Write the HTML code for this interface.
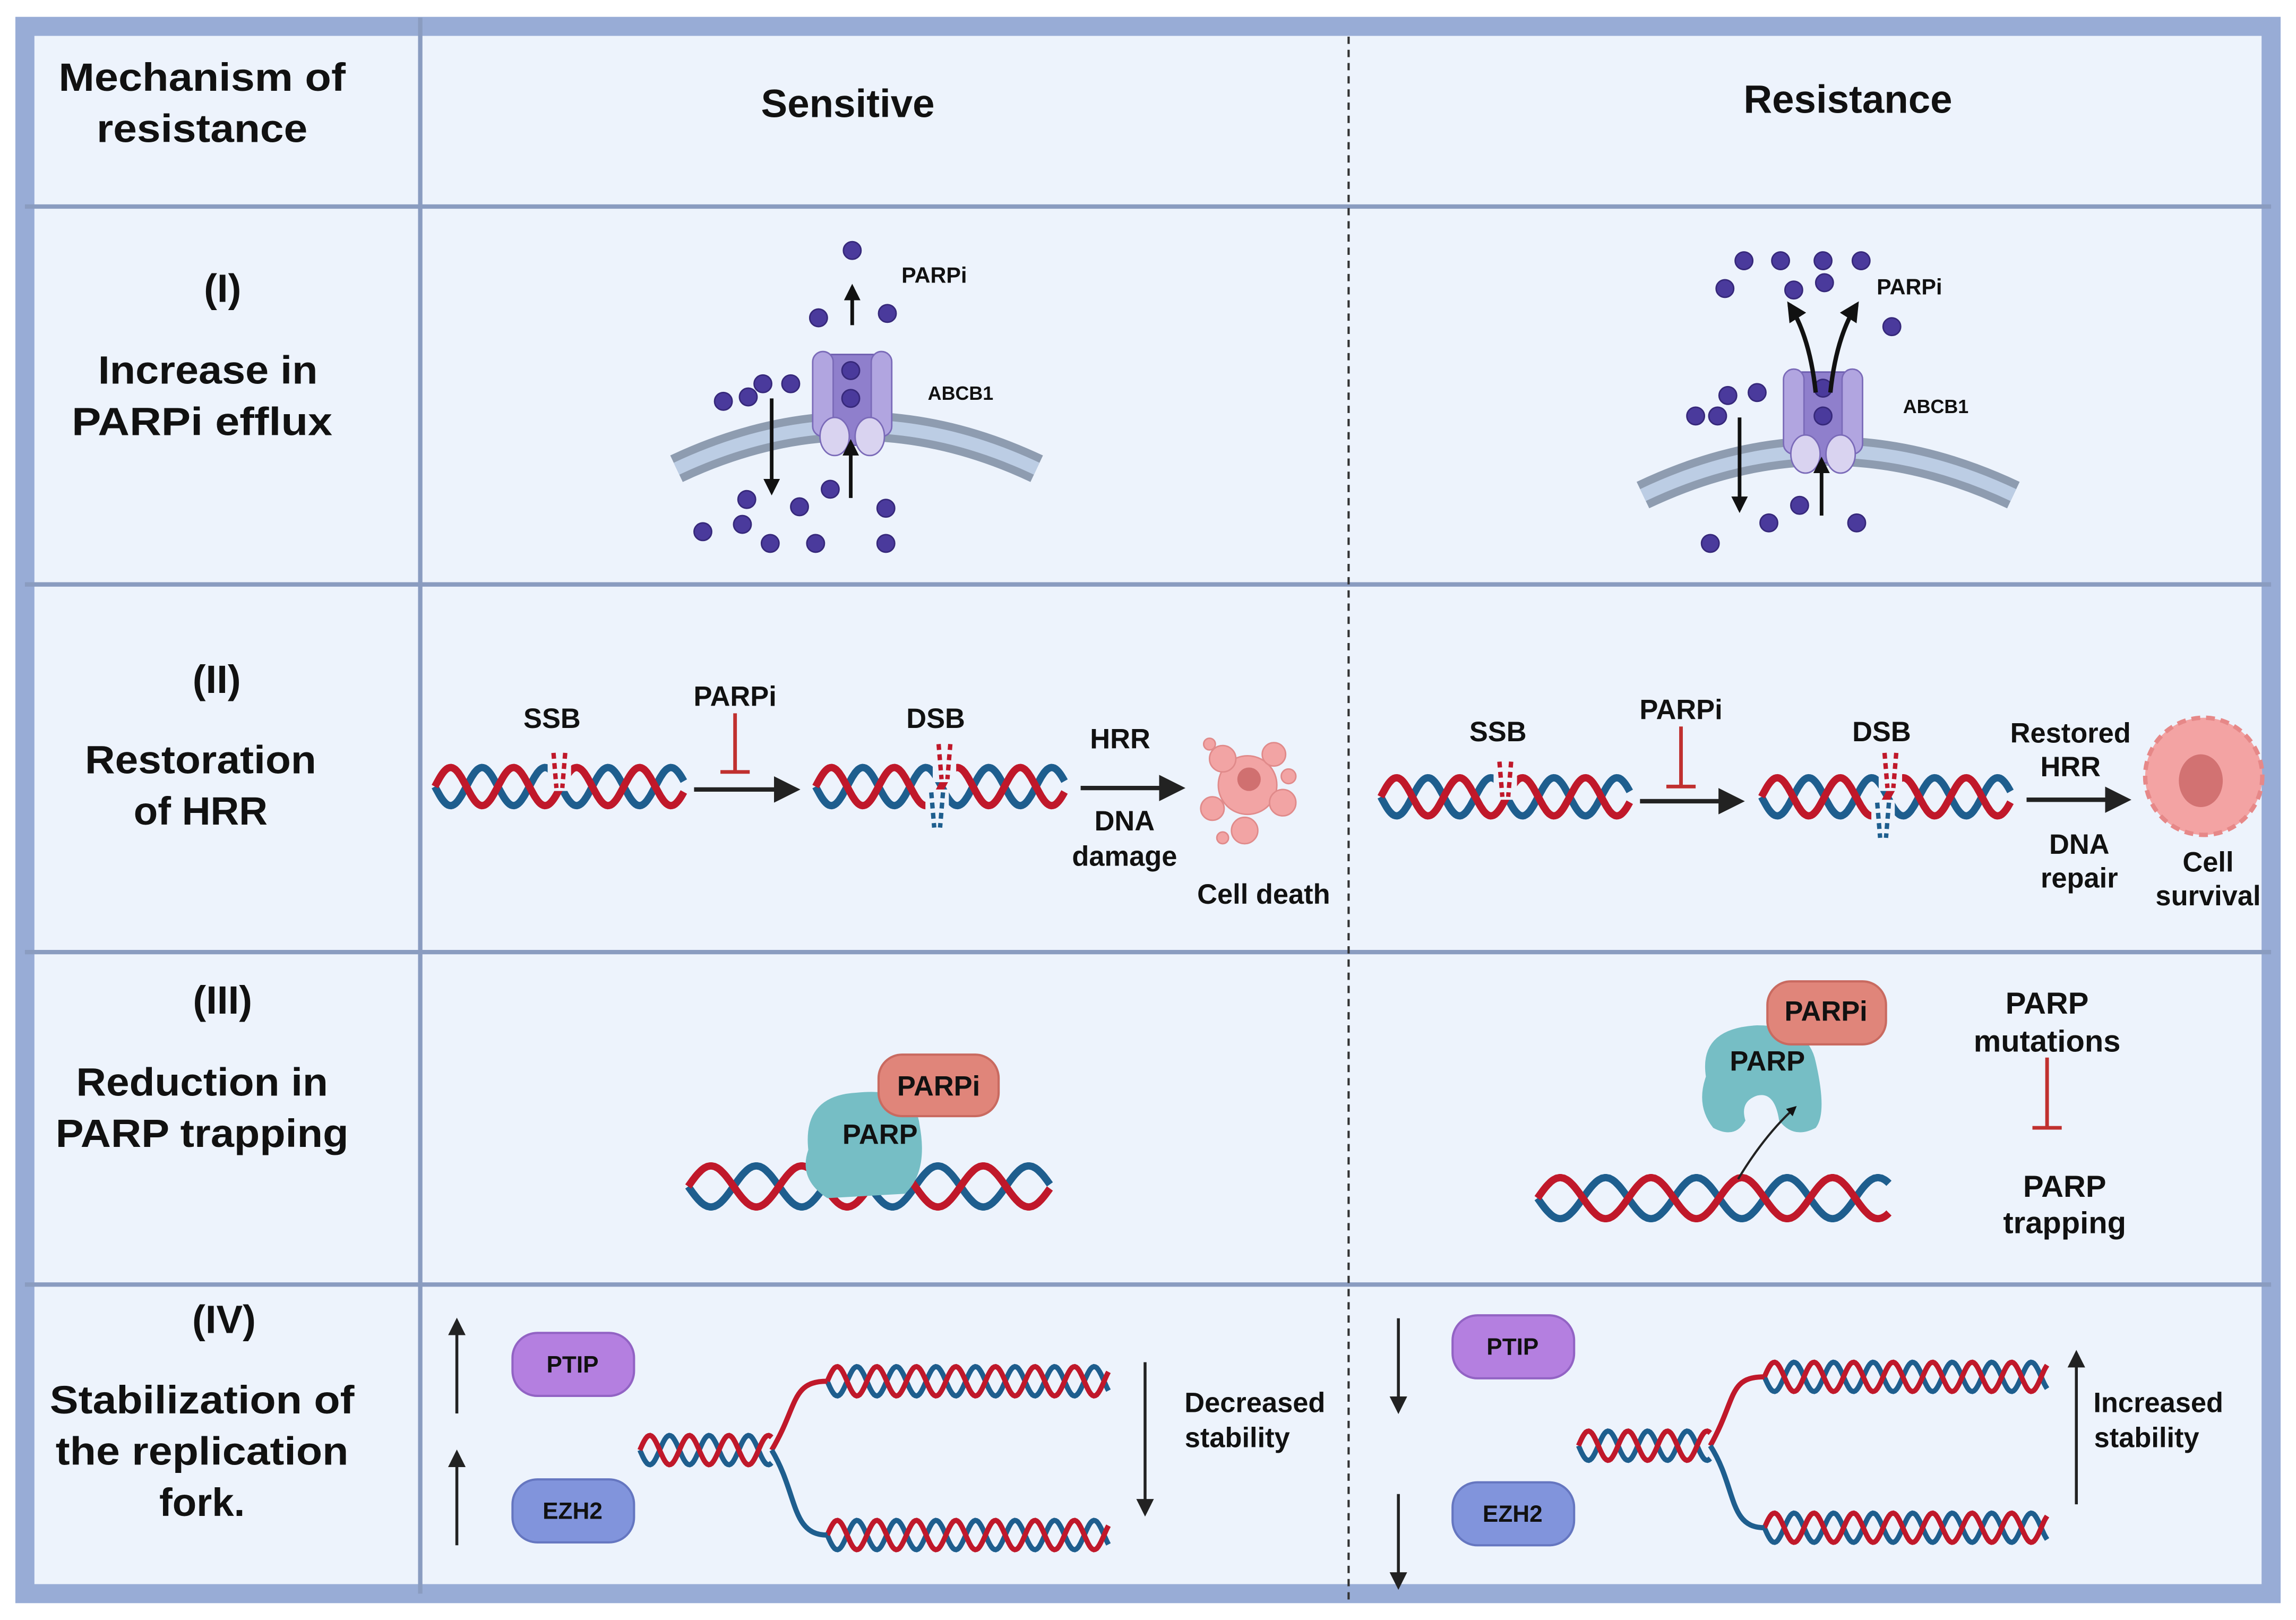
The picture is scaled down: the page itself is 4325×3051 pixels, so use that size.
<!DOCTYPE html>
<html><head><meta charset="utf-8"><style>
html,body{margin:0;padding:0;background:#fff;}
svg{display:block;}
text{font-family:"Liberation Sans",sans-serif;font-weight:bold;fill:#111;text-anchor:middle;}
</style></head><body>
<svg id="s" xmlns="http://www.w3.org/2000/svg" width="4325" height="3051" viewBox="0 0 1568 1106" preserveAspectRatio="none">
<defs>
<marker id="ah" viewBox="0 0 10 10" refX="8" refY="5" markerWidth="4.5" markerHeight="4.5" orient="auto"><path d="M0,0 L10,5 L0,10 z" fill="#111"/></marker>
<marker id="ahs" viewBox="0 0 10 10" refX="8" refY="5" markerWidth="6" markerHeight="6" orient="auto"><path d="M0,0 L10,5 L0,10 z" fill="#222"/></marker>
</defs>
<rect x="0" y="0" width="1568" height="1106" fill="#fff"/>
<rect x="17" y="18" width="1534" height="1070" fill="#edf3fc" stroke="#98acd6" stroke-width="13"/>
<g stroke="#8a9cc0" stroke-width="3">
<line x1="287" y1="12" x2="287" y2="1088"/>
<line x1="17" y1="141" x2="1551" y2="141"/>
<line x1="17" y1="399" x2="1551" y2="399"/>
<line x1="17" y1="650" x2="1551" y2="650"/>
<line x1="17" y1="877" x2="1551" y2="877"/>
</g>
<line x1="921" y1="25" x2="921" y2="1094" stroke="#333" stroke-width="1.5" stroke-dasharray="5,4"/>

<g font-size="27">
<text x="138" y="62" textLength="196" lengthAdjust="spacingAndGlyphs">Mechanism of</text><text x="138" y="97" textLength="144" lengthAdjust="spacingAndGlyphs">resistance</text>
<text x="579" y="80">Sensitive</text><text x="1262" y="77">Resistance</text>
<text x="152" y="206">(I)</text><text x="142" y="262" textLength="150" lengthAdjust="spacingAndGlyphs">Increase in</text><text x="138" y="297" textLength="178" lengthAdjust="spacingAndGlyphs">PARPi  efflux</text>
<text x="148" y="473">(II)</text><text x="137" y="528" textLength="158" lengthAdjust="spacingAndGlyphs">Restoration</text><text x="137" y="563">of HRR</text>
<text x="152" y="692">(III)</text><text x="138" y="748" textLength="172" lengthAdjust="spacingAndGlyphs">Reduction in</text><text x="138" y="783" textLength="200" lengthAdjust="spacingAndGlyphs">PARP trapping</text>
<text x="153" y="910">(IV)</text><text x="138" y="965" textLength="208" lengthAdjust="spacingAndGlyphs">Stabilization of</text><text x="138" y="1000" textLength="200" lengthAdjust="spacingAndGlyphs">the replication</text><text x="138" y="1035">fork.</text>
</g>

<path d="M462,320 Q585,262 708,320" fill="none" stroke="#8e9cb0" stroke-width="20"/>
<path d="M462,320 Q585,262 708,320" fill="none" stroke="#bccde4" stroke-width="9"/>
<path d="M1122,338 Q1248,278 1375,338" fill="none" stroke="#8e9cb0" stroke-width="20"/>
<path d="M1122,338 Q1248,278 1375,338" fill="none" stroke="#bccde4" stroke-width="9"/>
<g transform="translate(582,0)">
<rect x="-20" y="242" width="40" height="62" fill="#8f7fcc" stroke="#6c5cae" stroke-width="1"/>
<rect x="-27" y="240" width="14" height="58" rx="7" fill="#b1a5e0" stroke="#7a6ab8"/>
<rect x="13" y="240" width="14" height="58" rx="7" fill="#b1a5e0" stroke="#7a6ab8"/>
<ellipse cx="-12" cy="298" rx="10" ry="13" fill="#d9d3f0" stroke="#7a6ab8"/>
<ellipse cx="12" cy="298" rx="10" ry="13" fill="#d9d3f0" stroke="#7a6ab8"/>
</g>
<g transform="translate(1245,12)">
<rect x="-20" y="242" width="40" height="62" fill="#8f7fcc" stroke="#6c5cae" stroke-width="1"/>
<rect x="-27" y="240" width="14" height="58" rx="7" fill="#b1a5e0" stroke="#7a6ab8"/>
<rect x="13" y="240" width="14" height="58" rx="7" fill="#b1a5e0" stroke="#7a6ab8"/>
<ellipse cx="-12" cy="298" rx="10" ry="13" fill="#d9d3f0" stroke="#7a6ab8"/>
<ellipse cx="12" cy="298" rx="10" ry="13" fill="#d9d3f0" stroke="#7a6ab8"/>
</g>
<g id="dots"></g>
<g stroke="#111" stroke-width="2.5" fill="none">
<line x1="582" y1="222" x2="582" y2="196" marker-end="url(#ah)"/>
<line x1="527" y1="272" x2="527" y2="336" marker-end="url(#ah)"/>
<line x1="581" y1="340" x2="581" y2="302" marker-end="url(#ah)"/>
<line x1="1188" y1="285" x2="1188" y2="348" marker-end="url(#ah)"/>
<line x1="1244" y1="352" x2="1244" y2="314" marker-end="url(#ah)"/>
<path d="M1240,268 Q1236,230 1222,208" marker-end="url(#ah)" stroke-width="3"/>
<path d="M1250,268 Q1254,230 1268,208" marker-end="url(#ah)" stroke-width="3"/>
</g>
<g font-size="15"><text x="638" y="193">PARPi</text><text x="1304" y="201">PARPi</text></g>
<g font-size="13"><text x="656" y="273">ABCB1</text><text x="1322" y="282">ABCB1</text></g>

<g id="hel"></g>

<g stroke="#222" stroke-width="3" fill="none">
<line x1="474" y1="539" x2="543" y2="539" marker-end="url(#ahs)"/>
<line x1="738" y1="538" x2="806" y2="538" marker-end="url(#ahs)"/>
<line x1="1120" y1="547" x2="1188" y2="547" marker-end="url(#ahs)"/>
<line x1="1384" y1="546" x2="1452" y2="546" marker-end="url(#ahs)"/>
</g>
<g stroke="#c0302f" stroke-width="2.5">
<line x1="502" y1="487" x2="502" y2="527"/><line x1="492" y1="527" x2="512" y2="527"/>
<line x1="1148" y1="496" x2="1148" y2="537"/><line x1="1138" y1="537" x2="1158" y2="537"/>
<line x1="1398" y1="722" x2="1398" y2="770"/><line x1="1388" y1="770" x2="1408" y2="770"/>
</g>
<g font-size="19">
<text x="377" y="497">SSB</text><text x="502" y="482">PARPi</text><text x="639" y="497">DSB</text>
<text x="765" y="511">HRR</text><text x="768" y="567">DNA</text><text x="768" y="591">damage</text><text x="863" y="617">Cell death</text>
<text x="1023" y="506">SSB</text><text x="1148" y="491">PARPi</text><text x="1285" y="506">DSB</text>
<text x="1414" y="507">Restored</text><text x="1414" y="530">HRR</text><text x="1420" y="583">DNA</text><text x="1420" y="606">repair</text>
<text x="1508" y="595">Cell</text><text x="1508" y="618">survival</text>
</g>
<g fill="#f2a4a4" stroke="#e08a8a" stroke-width="1">
<circle cx="852" cy="536" r="20"/><circle cx="835" cy="518" r="9"/><circle cx="870" cy="515" r="8"/>
<circle cx="876" cy="548" r="9"/><circle cx="828" cy="552" r="8"/><circle cx="850" cy="567" r="9"/>
<circle cx="826" cy="508" r="4"/><circle cx="880" cy="530" r="5"/><circle cx="835" cy="572" r="4"/>
</g>
<circle cx="853" cy="532" r="8" fill="#d07070"/>
<circle cx="1505" cy="530" r="40" fill="#f3a3a3" stroke="#e68888" stroke-width="3" stroke-dasharray="6,4"/>
<circle cx="1505" cy="530" r="37" fill="#f3a3a3"/>
<ellipse cx="1503" cy="533" rx="15" ry="18" fill="#d27272"/>

<path d="M552,785 Q548,748 585,746 Q625,742 628,768 Q634,800 618,815 L565,818 Q545,805 552,785z" fill="#76bec5"/>
<rect x="600" y="720" width="82" height="42" rx="16" fill="#e0857a" stroke="#c96a60" stroke-width="1.5"/>
<path d="M1165,735 Q1160,702 1200,700 Q1235,700 1240,725 Q1248,760 1240,770 Q1225,778 1215,765 Q1212,745 1200,748 Q1188,752 1192,765 Q1185,778 1170,770 Q1158,755 1165,735z" fill="#76bec5"/>
<rect x="1207" y="670" width="81" height="43" rx="16" fill="#e0857a" stroke="#c96a60" stroke-width="1.5"/>
<path d="M1187,805 Q1205,775 1226,756" stroke="#222" stroke-width="1.5" fill="none" marker-end="url(#ah)"/>
<g font-size="19">
<text x="641" y="748">PARPi</text><text x="601" y="781">PARP</text>
<text x="1247" y="697">PARPi</text><text x="1207" y="731">PARP</text>
</g>
<g font-size="21">
<text x="1398" y="692">PARP</text><text x="1398" y="718">mutations</text>
<text x="1410" y="817">PARP</text><text x="1410" y="842">trapping</text>
</g>

<g stroke="#222" stroke-width="2" fill="none">
<line x1="312" y1="965" x2="312" y2="902" marker-end="url(#ahs)"/>
<line x1="312" y1="1055" x2="312" y2="992" marker-end="url(#ahs)"/>
<line x1="782" y1="930" x2="782" y2="1033" marker-end="url(#ahs)"/>
<line x1="955" y1="900" x2="955" y2="963" marker-end="url(#ahs)"/>
<line x1="955" y1="1020" x2="955" y2="1083" marker-end="url(#ahs)"/>
<line x1="1418" y1="1027" x2="1418" y2="924" marker-end="url(#ahs)"/>
</g>
<rect x="350" y="910" width="83" height="43" rx="17" fill="#b47fe0" stroke="#9263c4" stroke-width="1.5"/>
<rect x="350" y="1010" width="83" height="43" rx="17" fill="#8194dc" stroke="#6576c0" stroke-width="1.5"/>
<rect x="992" y="898" width="83" height="43" rx="17" fill="#b47fe0" stroke="#9263c4" stroke-width="1.5"/>
<rect x="992" y="1012" width="83" height="43" rx="17" fill="#8194dc" stroke="#6576c0" stroke-width="1.5"/>
<g font-size="16">
<text x="391" y="937">PTIP</text><text x="391" y="1037">EZH2</text>
<text x="1033" y="925">PTIP</text><text x="1033" y="1039">EZH2</text>
</g>
<g font-size="19">
<text x="857" y="964">Decreased</text><text x="845" y="988">stability</text>
<text x="1474" y="964">Increased</text><text x="1466" y="988">stability</text>
</g>
<g fill="none" stroke-width="3.5">
<path d="M527,990 C545,960 540,943 565,943" stroke="#c0182a"/>
<path d="M527,990 C545,1020 540,1048 565,1048" stroke="#1e5e8e"/>
<path d="M1168,987 C1186,955 1180,940 1205,940" stroke="#c0182a"/>
<path d="M1168,987 C1186,1015 1180,1043 1205,1043" stroke="#1e5e8e"/>
</g>
</svg>
<script>
var NS="http://www.w3.org/2000/svg";
function el(p,t,a){var e=document.createElementNS(NS,t);for(var k in a)e.setAttribute(k,a[k]);document.getElementById(p).appendChild(e);return e;}
function helix(x0,x1,yc,amp,per,w){
 var cols=["#1e5e8e","#c0182a"];
 for(var s=0;s<2;s++){var d="";for(var x=x0;x<=x1;x+=1){var y=yc+amp*Math.sin((x-x0)/per*2*Math.PI+s*Math.PI);d+=(x==x0?"M":"L")+x+","+y.toFixed(1);}
 el("hel","path",{d:d,fill:"none",stroke:cols[s],"stroke-width":w});}
}
helix(297,467,537,13,43,5);helix(557,727,537,13,43,5);
helix(943,1113,544,13,43,5);helix(1203,1373,544,13,43,5);
helix(470,717,810,14,62,5);helix(1050,1290,818,14,62,5);
helix(437,527,990,10,27,3.5);helix(565,757,943,10,27,3.5);helix(565,757,1048,10,27,3.5);
helix(1078,1168,987,10,27,3.5);helix(1205,1398,940,10,27,3.5);helix(1205,1398,1043,10,27,3.5);
[[382,526,"#c0182a"],[645,520,"#c0182a"],[640,553,"#1e5e8e"],[1028,532,"#c0182a"],[1291,526,"#c0182a"],[1286,560,"#1e5e8e"],[600,800,"#c0182a"]].forEach(function(b){
 el("hel","rect",{x:b[0]-8,y:b[1]-14,width:16,height:28,fill:"#edf3fc"});
 el("hel","path",{d:"M"+(b[0]-4)+","+(b[1]-12)+" l2,24 M"+(b[0]+4)+","+(b[1]-12)+" l-2,24",stroke:b[2],"stroke-width":3,"stroke-dasharray":"4,3",fill:"none"});
});
var dots=[[582,171],[559,217],[606,214],[494,274],[511,271],[521,262],[540,262],[581,253],[581,272],[510,341],[567,334],[546,346],[605,347],[480,363],[507,358],[526,371],[557,371],[605,371],
[1191,178],[1216,178],[1245,178],[1271,178],[1178,197],[1225,198],[1246,193],[1292,223],[1180,270],[1200,268],[1158,284],[1173,284],[1245,265],[1245,284],[1208,357],[1229,345],[1268,357],[1168,371]];
dots.forEach(function(p){el("dots","circle",{cx:p[0],cy:p[1],r:6,fill:"#4a3a9c",stroke:"#36287a","stroke-width":1});});
</script>
</body></html>
